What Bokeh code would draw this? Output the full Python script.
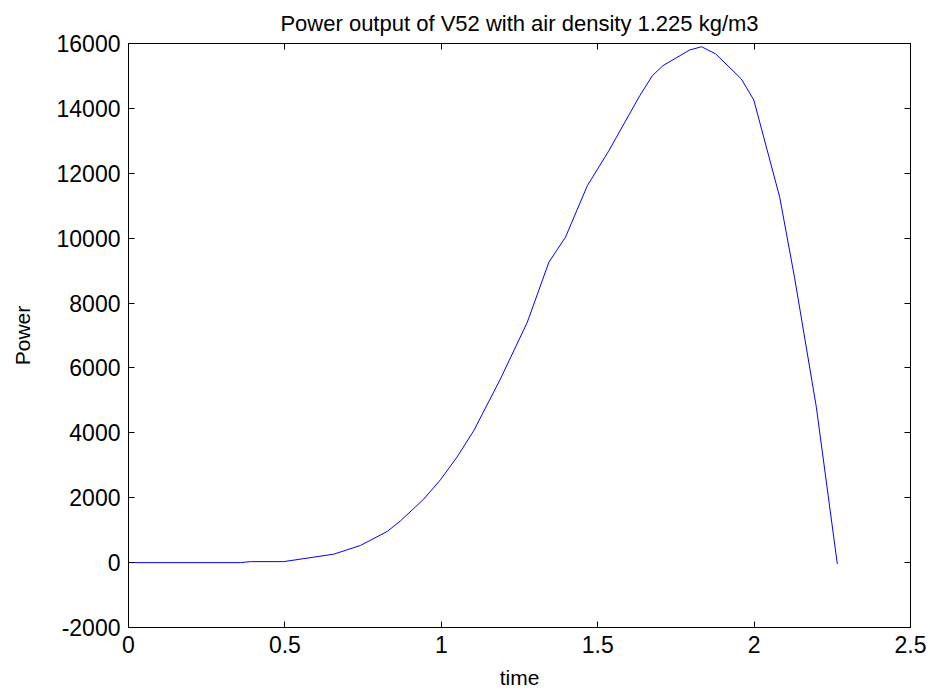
from bokeh.plotting import figure
from bokeh.models import Range1d, FixedTicker, LinearAxis
from bokeh.embed import file_html
from bokeh.resources import INLINE

time = [0, 0.358, 0.39, 0.496, 0.656, 0.742, 0.827, 0.87, 0.944, 0.997, 1.05, 1.104,
        1.189, 1.275, 1.344, 1.397, 1.467, 1.536, 1.6, 1.635, 1.675, 1.709, 1.794, 1.832,
        1.877, 1.959, 1.999, 2.082, 2.13, 2.199, 2.266]
power = [0, 0, 30, 30, 260, 530, 960, 1290, 1960, 2550, 3250, 4070,
         5660, 7410, 9260, 10030, 11620, 12700, 13800, 14400, 15010, 15320, 15800, 15900,
         15680, 14910, 14260, 11260, 8750, 4790, -40]

x_ticks = [0, 0.5, 1, 1.5, 2, 2.5]
x_tick_labels = ["0", "0.5", "1", "1.5", "2", "2.5"]
y_ticks = [-2000, 0, 2000, 4000, 6000, 8000, 10000, 12000, 14000, 16000]
y_tick_labels = [str(v) for v in y_ticks]

FONT = "Liberation Sans"

p = figure(width=930, height=692, output_backend="svg", toolbar_location=None,
           x_range=Range1d(0, 2.5), y_range=Range1d(-2000, 16000),
           min_border_left=128, min_border_right=20, min_border_top=0, min_border_bottom=65,
           title="Power output of V52 with air density 1.225 kg/m3")

p.line(time, power, line_color="#0000ff", line_width=1)

p.grid.visible = False
p.outline_line_color = "black"
p.outline_line_width = 1
p.background_fill_color = "white"
p.border_fill_color = "white"

p.title.text_font = FONT
p.title.text_font_size = "22px"
p.title.text_font_style = "normal"
p.title.align = "center"
p.title.text_color = "black"
p.title.standoff = 16

for ax, ticks, labels in ((p.xaxis[0], x_ticks, x_tick_labels), (p.yaxis[0], y_ticks, y_tick_labels)):
    ax.ticker = FixedTicker(ticks=ticks)
    ax.major_label_overrides = {t: l for t, l in zip(ticks, labels)}
    ax.major_tick_in = 6
    ax.major_tick_out = 0
    ax.minor_tick_line_color = None
    ax.major_label_text_font = FONT
    ax.major_label_text_font_size = "23px"
    ax.major_label_text_color = "black"
    ax.axis_label_text_font = FONT
    ax.axis_label_text_font_size = "21px"
    ax.axis_label_text_font_style = "normal"
    ax.axis_label_text_color = "black"
    ax.axis_line_color = "black"

p.xaxis[0].axis_label = "time"
p.xaxis[0].major_label_standoff = 8
p.xaxis[0].axis_label_standoff = 10
p.yaxis[0].axis_label = "Power"
p.yaxis[0].major_label_standoff = 8
p.yaxis[0].axis_label_standoff = 20

top = LinearAxis(ticker=FixedTicker(ticks=x_ticks),
                 major_label_overrides={t: "" for t in x_ticks},
                 major_tick_in=6, major_tick_out=0, minor_tick_line_color=None)
right = LinearAxis(ticker=FixedTicker(ticks=y_ticks),
                   major_label_overrides={t: "" for t in y_ticks},
                   major_tick_in=6, major_tick_out=0, minor_tick_line_color=None)
p.add_layout(top, "above")
p.add_layout(right, "right")

open("out.html", "w").write(file_html(p, INLINE))
